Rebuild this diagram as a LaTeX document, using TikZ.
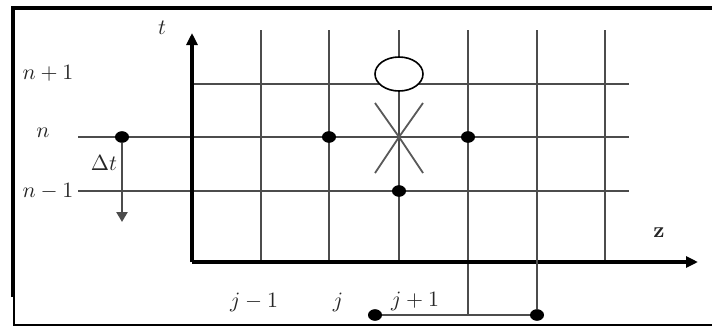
\documentclass[tikz,border=0pt]{standalone}
\usetikzlibrary{arrows.meta,positioning,shapes.geometric}
\tikzset{
  gridline/.style={black!70, line width=1.3pt},
  axisline/.style={black, line width=1.6pt, -{Triangle[length=6pt,width=5.5pt]}},
  ptdot/.style={ellipse, fill=black, inner sep=0pt, minimum width=7pt, minimum height=5.8pt},
  lbl/.style={black!85, inner sep=1pt, font=\fontsize{10.5}{12}\selectfont}
}
\begin{document}
\begin{tikzpicture}[x=0.5pt,y=-0.5pt]
  \useasboundingbox (0,0) rectangle (712,327);
  % frame
  \draw[line width=1.8pt] (13,297) -- (13,8) -- (712,8);
  \draw[line width=0.6pt] (14,296) -- (14,325) -- (712,325);

  % mesh
  \foreach \x in {261,329,399,605}{
    \draw[gridline] (\x,30) -- (\x,262);
  }
  \draw[gridline] (468,30) -- (468,315);
  \draw[gridline] (192,84) -- (629,84);
  \foreach \y in {137,191}{
    \draw[gridline] (78,\y) -- (629,\y);
  }

  % axes
  \coordinate (O) at (192,262);
  \coordinate (ttip) at (192,33);
  \coordinate (ztip) at (698,262);
  \draw[axisline] (O) -- (ttip);
  \draw[axisline] (O) -- (ztip);
  \node[lbl] (tlab) at (162,28) {$t$};
  \node[lbl] (zlab) at (659,233) {$\mathbf{z}$};

  % stencil
  \coordinate (X) at (399,137);
  \draw[black!65, line width=0.9pt] (375,103) -- (X) -- (423,173);
  \draw[black!65, line width=0.9pt] (423,103) -- (X) -- (375,173);
  \node[draw, ellipse, fill=white, line width=0.8pt,
        minimum width=24pt, minimum height=17pt] (next) at (399,74) {};
  \node[ptdot] (dleft) at (122,137) {};
  \node[ptdot] (dj) at (329,137) {};
  \node[ptdot] (djp) at (468,137) {};
  \node[ptdot] (dold) at (399,191) {};
  \node[ptdot] (bl) at (375,315) {};
  \node[ptdot] (br) at (537,315) {};
  \draw[gridline] (537,30) -- (br);
  \draw[gridline] (bl) -- (br);

  % time step
  \coordinate (dttip) at (122,222);
  \draw[black!70, line width=1.2pt, -{Triangle[length=5pt,width=5.5pt]}] (dleft) -- (dttip);
  \node[lbl] (dt) at (104,163) {$\Delta t$};

  % labels
  \node[lbl] (np) at (48,73) {$n+1$};
  \node[lbl] (nn) at (43,133) {$n$};
  \node[lbl] (nm) at (48,191) {$n-1$};
  \node[lbl] (jm) at (254,302) {$j-1$};
  \node[lbl] (jj) at (338,302) {$j$};
  \node[lbl] (jp) at (415,301) {$j+1$};
\end{tikzpicture}
\end{document}
